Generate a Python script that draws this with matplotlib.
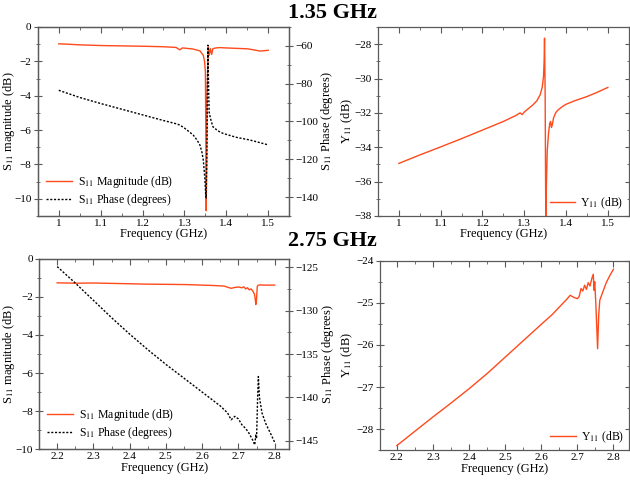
import matplotlib
matplotlib.use('Agg')
import matplotlib.pyplot as plt
from matplotlib.ticker import MultipleLocator, FuncFormatter
import numpy as np

plt.rcParams['font.family'] = ['Liberation Serif', 'DejaVu Serif']
plt.rcParams['mathtext.fontset'] = 'stix'

red = '#ff4a1c'
spine_col = '#5a5a5a'

# ---- 1.35 GHz band ----
mag1_f = [1.00, 1.02, 1.05, 1.10, 1.15, 1.20, 1.25, 1.28, 1.289, 1.295, 1.30, 1.32,
          1.337, 1.345, 1.348, 1.350, 1.351, 1.352, 1.354, 1.357, 1.359, 1.362,
          1.365, 1.368, 1.375, 1.384, 1.40, 1.43, 1.45, 1.465, 1.48, 1.50]
mag1 = [-0.98, -1.00, -1.04, -1.08, -1.10, -1.12, -1.15, -1.19, -1.33, -1.22, -1.23, -1.28,
        -1.39, -1.65, -2.0, -2.6, -6.0, -10.7, -4.0, -1.16, -1.65, -1.26,
        -1.60, -1.26, -1.22, -1.20, -1.22, -1.25, -1.27, -1.33, -1.40, -1.36]

phase1_f = [1.00, 1.05, 1.10, 1.15, 1.20, 1.25, 1.28, 1.289, 1.30, 1.31, 1.321, 1.33,
            1.337, 1.342, 1.345, 1.347, 1.349, 1.350, 1.351, 1.352, 1.3535, 1.355,
            1.356, 1.3575, 1.359, 1.362, 1.368, 1.38, 1.392, 1.41, 1.424, 1.44,
            1.456, 1.48, 1.50]
phase1 = [-83.5, -87.3, -90.5, -93.5, -96.5, -99.5, -101.2, -101.9, -103.5, -105.2, -107.2, -109.8,
          -112.5, -116.5, -120.4, -125.5, -131.0, -135.5, -139.8, -140.5, -120.0, -80.0,
          -59.6, -80.0, -95.0, -98.3, -102.8, -105.0, -106.3, -107.5, -108.4, -109.1,
          -109.8, -111.2, -112.4]

y1_f = [1.00, 1.05, 1.10, 1.15, 1.20, 1.25, 1.28, 1.29, 1.295, 1.30, 1.31, 1.32, 1.33,
        1.338, 1.343, 1.346, 1.3475, 1.3485, 1.350, 1.351, 1.3515, 1.353, 1.355, 1.358,
        1.361, 1.363, 1.365, 1.367, 1.37, 1.375, 1.38, 1.39, 1.40, 1.42, 1.45, 1.47, 1.50]
y1 = [-34.94, -34.45, -33.98, -33.50, -33.00, -32.50, -32.15, -32.00, -32.10, -31.95, -31.75, -31.55, -31.30,
      -30.95, -30.50, -29.90, -29.00, -27.65, -31.0, -36.0, -38.0, -36.2, -34.2, -33.2,
      -32.6, -32.5, -32.85, -32.7, -32.3, -32.0, -31.85, -31.65, -31.50, -31.30, -31.05, -30.85, -30.52]

# ---- 2.75 GHz band ----
mag2_f = [2.20, 2.25, 2.30, 2.35, 2.40, 2.45, 2.50, 2.55, 2.60, 2.63, 2.66, 2.68, 2.69,
          2.70, 2.71, 2.715, 2.72, 2.725, 2.73, 2.735, 2.74, 2.744, 2.746, 2.748, 2.750,
          2.752, 2.755, 2.76, 2.77, 2.80]
mag2 = [-1.26, -1.28, -1.27, -1.29, -1.31, -1.33, -1.34, -1.35, -1.38, -1.40, -1.43, -1.55, -1.50,
        -1.48, -1.52, -1.47, -1.58, -1.52, -1.63, -1.58, -1.70, -1.85, -2.05, -2.40, -2.10,
        -1.45, -1.38, -1.37, -1.38, -1.38]

phase2_f = [2.20, 2.25, 2.30, 2.35, 2.40, 2.45, 2.50, 2.55, 2.60, 2.65, 2.67, 2.68, 2.69,
            2.70, 2.71, 2.72, 2.73, 2.74, 2.745, 2.748, 2.750, 2.753, 2.755, 2.758, 2.765,
            2.775, 2.79, 2.80]
phase2 = [-124.9, -126.8, -128.8, -130.8, -132.7, -134.5, -136.2, -137.8, -139.4, -141.0, -141.8, -142.6, -142.2,
          -142.5, -143.2, -143.6, -144.2, -145.0, -145.5, -144.3, -144.8, -140.0, -137.6, -140.0, -141.8,
          -143.0, -144.3, -145.2]

y2_f = [2.20, 2.25, 2.30, 2.35, 2.40, 2.45, 2.50, 2.55, 2.60, 2.63, 2.65, 2.67, 2.68, 2.69,
        2.70, 2.705, 2.71, 2.715, 2.72, 2.725, 2.73, 2.735, 2.74, 2.744, 2.746, 2.748,
        2.751, 2.756, 2.759, 2.762, 2.77, 2.78, 2.79, 2.80]
y2 = [-28.39, -28.05, -27.71, -27.38, -27.04, -26.68, -26.29, -25.90, -25.51, -25.28, -25.10, -24.92, -24.82, -24.87,
      -24.90, -24.85, -24.66, -24.72, -24.58, -24.68, -24.52, -24.60, -24.42, -24.32, -24.70, -24.50,
      -25.00, -26.09, -25.30, -24.94, -24.75, -24.52, -24.35, -24.20]

fmt = FuncFormatter(lambda v, p: f'{v:g}'.replace('-', '\u2212'))
TICK_FS = 8
LAB_FS = 9


def style_axis(ax, xmajor, xminor, ymajor, yminor):
    for sp in ax.spines.values():
        sp.set_color(spine_col)
        sp.set_linewidth(0.9)
    ax.xaxis.set_major_locator(MultipleLocator(xmajor))
    ax.xaxis.set_minor_locator(MultipleLocator(xminor))
    ax.yaxis.set_major_locator(MultipleLocator(ymajor))
    ax.yaxis.set_minor_locator(MultipleLocator(yminor))
    ax.xaxis.set_major_formatter(fmt)
    ax.yaxis.set_major_formatter(fmt)
    ax.tick_params(axis='x', which='both', direction='in', top=True, colors=spine_col,
                   labelcolor='black', labelsize=TICK_FS, pad=2)
    ax.tick_params(axis='x', which='major', length=4)
    ax.tick_params(axis='x', which='minor', length=2)
    ax.tick_params(axis='y', which='both', direction='inout', colors=spine_col,
                   labelcolor='black', labelsize=TICK_FS, pad=1.5)
    ax.tick_params(axis='y', which='major', length=6)
    ax.tick_params(axis='y', which='minor', length=3)


def s11_panel(rect, f_mag, mag, f_ph, ph, xlim, ylim, ylim2, xmaj, ymaj, ymin, ymaj2, ymin2,
              ylab_x, ylab2_x):
    ax = fig.add_axes(rect)
    l1, = ax.plot(f_mag, mag, color=red, lw=1.0, label=r'S$_{11}$ Magnitude (dB)')
    ax.set_xlim(*xlim)
    ax.set_ylim(*ylim)
    style_axis(ax, xmaj, xmaj / 2, ymaj, ymin)
    ax.set_xlabel('Frequency (GHz)', fontsize=LAB_FS, labelpad=0.5)
    ax.set_ylabel(r'S$_{11}$ magnitude (dB)', fontsize=LAB_FS)
    ax.yaxis.set_label_coords(ylab_x, 0.5)

    ax2 = ax.twinx()
    l2, = ax2.plot(f_ph, ph, color='black', lw=1.0, ls=(0, (1.5, 1.2)),
                   label=r'S$_{11}$ Phase (degrees)')
    ax2.set_ylim(*ylim2)
    for sp in ax2.spines.values():
        sp.set_color(spine_col)
        sp.set_linewidth(0.9)
    ax2.yaxis.set_major_locator(MultipleLocator(ymaj2))
    ax2.yaxis.set_minor_locator(MultipleLocator(ymin2))
    ax2.yaxis.set_major_formatter(fmt)
    ax2.tick_params(axis='y', which='both', direction='inout', colors=spine_col,
                    labelcolor='black', labelsize=TICK_FS, pad=1.5)
    ax2.tick_params(axis='y', which='major', length=6)
    ax2.tick_params(axis='y', which='minor', length=3)
    ax2.set_ylabel(r'S$_{11}$ Phase (degrees)', fontsize=LAB_FS)
    ax2.yaxis.set_label_coords(ylab2_x, 0.5)

    ax2.legend([l1, l2], [l1.get_label(), l2.get_label()], loc='lower left', frameon=False,
               fontsize=8.5, handlelength=2.2, handletextpad=0.5, borderaxespad=0.3,
               labelspacing=0.15)
    return ax, ax2


def y11_panel(rect, f, y, xlim, ylim, xmaj, ymaj, ymin, ylab_x):
    ax = fig.add_axes(rect)
    ax.plot(f, y, color=red, lw=1.0, label=r'Y$_{11}$ (dB)')
    ax.set_xlim(*xlim)
    ax.set_ylim(*ylim)
    style_axis(ax, xmaj, xmaj / 2, ymaj, ymin)
    ax.tick_params(axis='y', which='both', right=True)
    ax.set_xlabel('Frequency (GHz)', fontsize=LAB_FS, labelpad=0.5)
    ax.set_ylabel(r'Y$_{11}$ (dB)', fontsize=LAB_FS)
    ax.yaxis.set_label_coords(ylab_x, 0.5)
    ax.legend(loc='lower right', frameon=False, fontsize=8.5, handlelength=2.2,
              handletextpad=0.4, borderaxespad=0.05)
    return ax


fig = plt.figure(figsize=(6.3, 4.82), dpi=100)

s11_panel([0.060, 0.552, 0.399, 0.392], mag1_f, mag1, phase1_f, phase1,
          (0.95, 1.55), (-11, 0), (-150, -50), 0.1, 2, 1, 20, 10, -0.084, 1.12)
y11_panel([0.600, 0.552, 0.398, 0.392], y1_f, y1,
          (0.95, 1.55), (-38, -27), 0.1, 2, 1, -0.092)

s11_panel([0.062, 0.068, 0.397, 0.395], mag2_f, mag2, phase2_f, phase2,
          (2.15, 2.84), (-10, 0), (-146, -124), 0.1, 2, 1, 5, 2.5, -0.088, 1.125)
y11_panel([0.603, 0.066, 0.396, 0.393], y2_f, y2,
          (2.153, 2.844), (-28.5, -24), 0.1, 1, 0.5, -0.10)

fig.text(0.528, 0.972, '1.35 GHz', ha='center', va='center', fontsize=16, fontweight='bold')
fig.text(0.528, 0.500, '2.75 GHz', ha='center', va='center', fontsize=16, fontweight='bold')

fig.savefig('out.png', dpi=100)
plt.close(fig)
